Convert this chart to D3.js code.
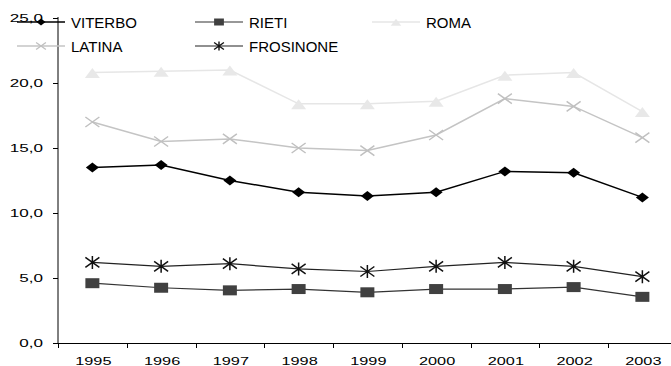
<!DOCTYPE html>
<html><head><meta charset="utf-8">
<script src="https://cdn.jsdelivr.net/npm/d3@7"></script>
<style>body{margin:0;background:#fff}svg{display:block}text{font-family:"Liberation Sans",Arial,sans-serif}</style>
</head><body>
<svg id="c" width="671" height="366"></svg>
<script>
const years = ["1995","1996","1997","1998","1999","2000","2001","2002","2003"];
const viterbo   = [13.5,13.7,12.5,11.6,11.3,11.6,13.2,13.1,11.2];
const rieti     = [4.6,4.25,4.05,4.15,3.9,4.15,4.15,4.3,3.55];
const roma      = [20.8,20.9,21.0,18.4,18.4,18.6,20.6,20.8,17.8];
const latina    = [17.0,15.5,15.7,15.0,14.8,16.0,18.8,18.2,15.8];
const frosinone = [6.2,5.9,6.1,5.7,5.5,5.9,6.2,5.9,5.1];
const yTicks = [0,5,10,15,20,25];
const seriesNames = ["VITERBO","RIETI","ROMA","LATINA","FROSINONE"];

const series = [
  {name:seriesNames[0], values:viterbo, line:"#000", lw:1.5, marker:"diamond", fill:"#000", stroke:"none"},
  {name:seriesNames[1], values:rieti, line:"#333", lw:1.2, marker:"square", fill:"#404040", stroke:"none"},
  {name:seriesNames[2], values:roma, line:"#e6e6e6", lw:1.5, marker:"triangle", fill:"#e8e8e8", stroke:"none"},
  {name:seriesNames[3], values:latina, line:"#c4c4c4", lw:1.5, marker:"x", fill:"none", stroke:"#c0c0c0"},
  {name:seriesNames[4], values:frosinone, line:"#222", lw:1.2, marker:"star", fill:"none", stroke:"#111"}
];

const markerPaths = {
  diamond:"M0,-5L6.5,0L0,5L-6.5,0Z",
  square:"M-7,-5H7V5H-7Z",
  triangle:"M0,-4.5L7.5,5.5L-7.5,5.5Z",
  x:"M-7,-5L7,5M-7,5L7,-5",
  star:"M-7,-5L7,5M-7,5L7,-5M0,-6.5L0,6.5"
};

const svg = d3.select("#c");
const x0 = 58, yBottom = 343, yTop = 18;
const x = d3.scaleBand().domain(years).range([x0, x0 + 68.75*9]);
const y = d3.scaleLinear().domain([0,25]).range([yBottom, yTop]);

// axes
svg.append("line").attr("x1",x0).attr("x2",x0).attr("y1",y(25)-1).attr("y2",yBottom).attr("stroke","#000");
svg.append("line").attr("x1",x0-5).attr("x2",x(years[8])+x.bandwidth()).attr("y1",yBottom+0.5).attr("y2",yBottom+0.5).attr("stroke","#000");
yTicks.forEach(t=>{
  svg.append("line").attr("x1",x0-5).attr("x2",x0).attr("y1",Math.round(y(t))+0.5).attr("y2",Math.round(y(t))+0.5).attr("stroke","#000");
  svg.append("text").attr("transform",`translate(43,${y(t)+4}) scale(1.55,1)`)
    .attr("text-anchor","end").attr("font-size",11).attr("fill","#000")
    .text(d3.format(".1f")(t).replace(".",","));
});
years.forEach((yr,i)=>{
  const bx = x(yr);
  svg.append("line").attr("x1",Math.round(bx)+0.5).attr("x2",Math.round(bx)+0.5).attr("y1",yBottom).attr("y2",yBottom+5).attr("stroke","#000");
  svg.append("text").attr("transform",`translate(${bx+x.bandwidth()/2+1},365) scale(1.48,1)`)
    .attr("text-anchor","middle").attr("font-size",11).attr("fill","#000").text(yr);
});

// lines
const cx = d => x(d.yr) + x.bandwidth()/2;
const drawOrder = [2,3,0,4,1];
drawOrder.forEach(si=>{
  const s = series[si];
  const pts = s.values.map((v,i)=>({yr:years[i], v}));
  svg.append("path").datum(pts)
    .attr("d", d3.line().x(cx).y(d=>y(d.v)))
    .attr("fill","none").attr("stroke",s.line).attr("stroke-width",s.lw);
  svg.selectAll(null).data(pts).enter().append("path")
    .attr("d", markerPaths[s.marker])
    .attr("transform", d=>`translate(${cx(d)},${y(d.v)})`)
    .attr("fill", s.fill).attr("stroke", s.stroke).attr("stroke-width",1.5);
});

// legend
const legendPos = [[17,22],[195,22],[372,22],[17,46],[195,46]];
series.forEach((s,i)=>{
  const [lx,ly] = legendPos[i];
  const g = svg.append("g").attr("transform",`translate(${lx},${ly})`);
  g.append("line").attr("x1",0).attr("x2",48).attr("y1",0).attr("y2",0).attr("stroke",s.line).attr("stroke-width",s.lw);
  g.append("path").attr("d",markerPaths[s.marker])
    .attr("transform","translate(24,0) scale(0.7)")
    .attr("fill",s.fill).attr("stroke",s.stroke).attr("stroke-width",2);
  g.append("text").attr("x",54).attr("y",5.5).attr("font-size",15).attr("fill","#000").text(s.name);
});
</script>
</body></html>
